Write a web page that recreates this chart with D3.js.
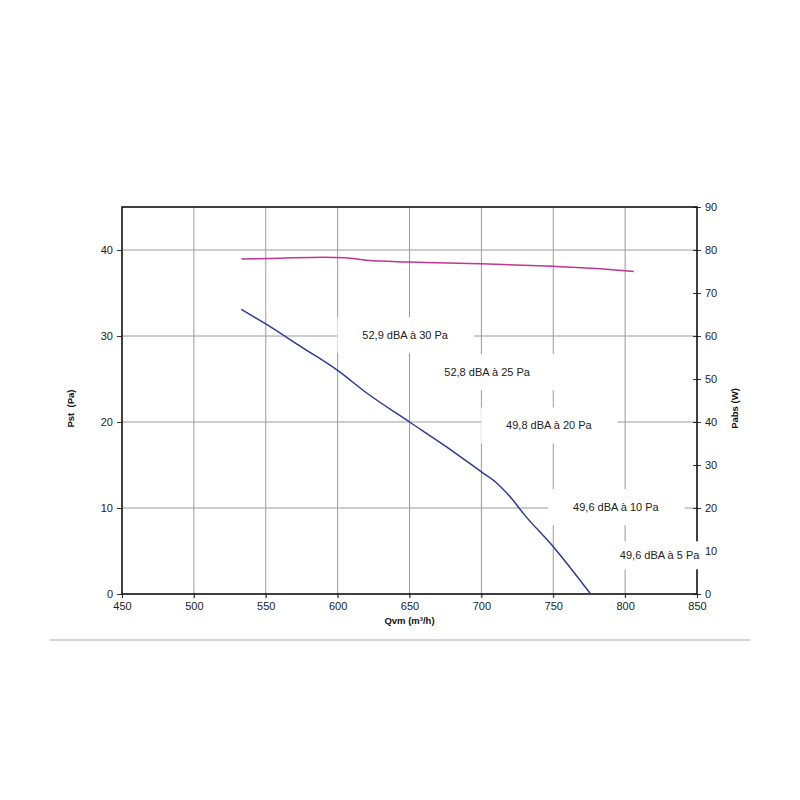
<!DOCTYPE html>
<html>
<head>
<meta charset="utf-8">
<script src="https://cdn.jsdelivr.net/npm/d3@7"></script>
<style>
  body { margin: 0; background: #fff; }
  svg { display: block; font-family: "Liberation Sans", Arial, sans-serif; }
</style>
</head>
<body>
<svg id="chart" width="800" height="800"></svg>
<script>
// ---- data ----
const xTicks = [450, 500, 550, 600, 650, 700, 750, 800, 850];
const pstTicks = [0, 10, 20, 30, 40];
const pabsTicks = [0, 10, 20, 30, 40, 50, 60, 70, 80, 90];

// static pressure curve (Qvm m³/h, Pst Pa)
const pressureQ = [533, 550, 575, 600, 620, 650, 675, 700, 710, 720, 730, 750, 776];
const pressureP = [33.1, 31.4, 28.7, 26.0, 23.4, 20.0, 17.2, 14.2, 13.0, 11.3, 9.2, 5.5, 0];

// absorbed power curve (Qvm m³/h, Pabs W)
const powerQ = [533, 560, 590, 605, 620, 650, 700, 750, 780, 806];
const powerW = [77.9, 78.1, 78.3, 78.2, 77.6, 77.2, 76.8, 76.2, 75.7, 75.0];

// noise annotations
const noiseText = ["52,9 dBA à 30 Pa", "52,8 dBA à 25 Pa", "49,8 dBA à 20 Pa", "49,6 dBA à 10 Pa", "49,6 dBA à 5 Pa"];
const noiseQ = [647, 704, 747, 793.6, 824];
const noiseP = [30.1, 25.8, 19.6, 10.1, 4.5];

// ---- layout ----
const L = 122, R = 697, T = 207, B = 594;
const svg = d3.select("#chart");

const x = d3.scaleLinear().domain([450, 850]).range([L, R]);
const yL = d3.scaleLinear().domain([0, 45]).range([B, T]);
const yR = d3.scaleLinear().domain([0, 90]).range([B, T]);

const gridColor = "#9a9a9a";
const textColor = "#222";

// grid
svg.append("g").selectAll("line").data(xTicks.slice(1, -1)).join("line")
  .attr("x1", d => x(d)).attr("x2", d => x(d))
  .attr("y1", T).attr("y2", B + 4)
  .attr("stroke", gridColor).attr("stroke-width", 1);
svg.append("g").selectAll("line").data(pstTicks.slice(1)).join("line")
  .attr("x1", L).attr("x2", R)
  .attr("y1", d => yL(d)).attr("y2", d => yL(d))
  .attr("stroke", gridColor).attr("stroke-width", 1);

// axes
const fontSize = 11;
const bottomAxis = svg.append("g").attr("transform", `translate(0,${B})`)
  .call(d3.axisBottom(x).tickValues(xTicks).tickSize(4).tickPadding(4));
const leftAxis = svg.append("g").attr("transform", `translate(${L},0)`)
  .call(d3.axisLeft(yL).tickValues(pstTicks).tickSize(5).tickPadding(4));
const rightAxis = svg.append("g").attr("transform", `translate(${R},0)`)
  .call(d3.axisRight(yR).tickValues(pabsTicks).tickSize(4).tickPadding(4));
rightAxis.selectAll(".tick line").attr("x1", -4);

[bottomAxis, leftAxis, rightAxis].forEach(a => {
  a.select(".domain").remove();
  a.selectAll(".tick line").attr("stroke", "#333");
  a.selectAll("text").attr("font-size", fontSize).attr("fill", textColor)
    .attr("font-family", "'Liberation Sans', Arial, sans-serif");
});

// frame
svg.append("rect").attr("x", L).attr("y", T).attr("width", R - L).attr("height", B - T)
  .attr("fill", "none").attr("stroke", "#111").attr("stroke-width", 1.6);

// curves
const linePress = d3.line().x(d => x(d[0])).y(d => yL(d[1])).curve(d3.curveMonotoneX);
const linePow = d3.line().x(d => x(d[0])).y(d => yR(d[1])).curve(d3.curveMonotoneX);

svg.append("path").datum(powerQ.map((q, i) => [q, powerW[i]]))
  .attr("d", linePow).attr("fill", "none").attr("stroke", "#c0358f").attr("stroke-width", 1.5);
svg.append("path").datum(pressureQ.map((q, i) => [q, pressureP[i]]))
  .attr("d", linePress).attr("fill", "none").attr("stroke", "#2b3b91").attr("stroke-width", 1.5);

// noise labels with white boxes
const padX = [25, 25, 25, 25, 4];
const padY = [14, 14, 14, 14, 10];
const lab = svg.append("g");
noiseText.forEach((t, i) => {
  const g = lab.append("g");
  const txt = g.append("text")
    .attr("x", x(noiseQ[i])).attr("y", yL(noiseP[i]))
    .attr("text-anchor", "middle").attr("dominant-baseline", "central")
    .attr("font-size", fontSize).attr("fill", textColor).text(t);
  const bb = txt.node().getBBox();
  g.insert("rect", "text")
    .attr("x", bb.x - padX[i]).attr("y", bb.y - padY[i] + 2)
    .attr("width", bb.width + 2 * padX[i]).attr("height", bb.height + 2 * padY[i] - 4)
    .attr("fill", "#fff");
});

// axis titles
svg.append("text").attr("x", x(650)).attr("y", 624)
  .attr("text-anchor", "middle").attr("font-size", 9.5).attr("font-weight", "bold")
  .attr("fill", "#111").text("Qvm (m³/h)");
svg.append("text").attr("transform", `translate(74,${(T + B) / 2 + 8}) rotate(-90)`)
  .attr("text-anchor", "middle").attr("font-size", 9.5).attr("font-weight", "bold")
  .attr("fill", "#111").attr("xml:space", "preserve").text("Pst  (Pa)");
svg.append("text").attr("transform", `translate(738,${(T + B) / 2 + 8}) rotate(-90)`)
  .attr("text-anchor", "middle").attr("font-size", 9.5).attr("font-weight", "bold")
  .attr("fill", "#111").text("Pabs (W)");

// separator rule
svg.append("line").attr("x1", 50).attr("x2", 750).attr("y1", 640).attr("y2", 640)
  .attr("stroke", "#aaa").attr("stroke-width", 1.2);
</script>
</body>
</html>
